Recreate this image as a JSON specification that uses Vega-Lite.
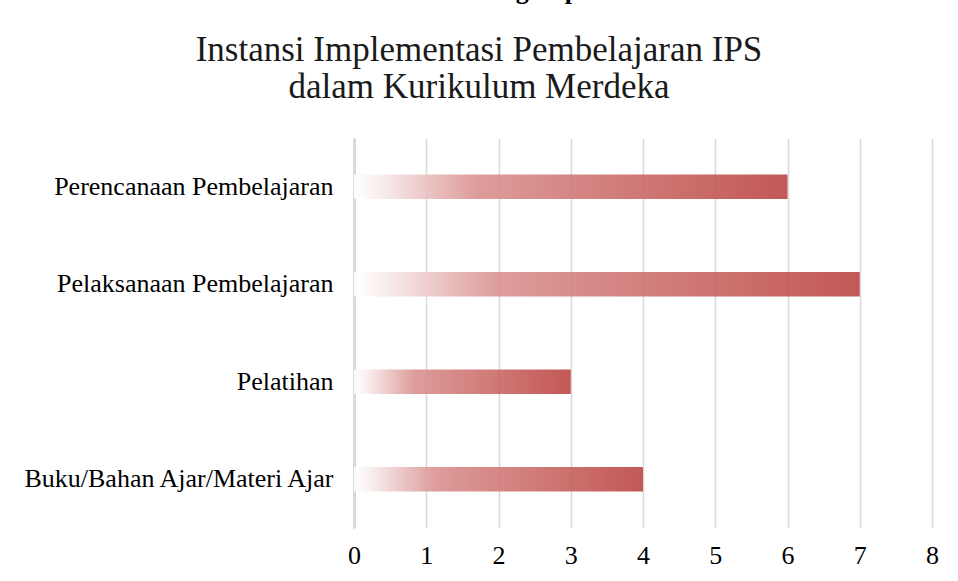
{
  "$schema": "https://vega.github.io/schema/vega-lite/v6.json",
  "autosize": "none",
  "width": 578,
  "height": 390,
  "padding": {"left": 354, "top": 138, "right": 26, "bottom": 53},
  "background": "#ffffff",
  "title": {
    "text": "Gambar 1. Proses Pengumpulan Data",
    "subtitle": ["Instansi Implementasi Pembelajaran IPS", "dalam Kurikulum Merdeka"],
    "anchor": "middle",
    "frame": "group",
    "dx": -164,
    "offset": 33,
    "font": "Liberation Serif",
    "fontSize": 26,
    "fontWeight": "bold",
    "color": "#000000",
    "subtitleFont": "Liberation Serif",
    "subtitleFontSize": 35,
    "subtitleLineHeight": 37,
    "subtitleColor": "#1a1a1a",
    "subtitlePadding": 29
  },
  "data": {
    "values": [
      {"kategori": "Perencanaan Pembelajaran", "jumlah": 6},
      {"kategori": "Pelaksanaan Pembelajaran", "jumlah": 7},
      {"kategori": "Pelatihan", "jumlah": 3},
      {"kategori": "Buku/Bahan Ajar/Materi Ajar", "jumlah": 4}
    ]
  },
  "mark": {
    "type": "bar",
    "opacity": 0.9,
    "color": {
      "x1": 0, "y1": 0, "x2": 1, "y2": 0,
      "gradient": "linear",
      "stops": [
        {"offset": 0, "color": "#ffffff"},
        {"offset": 0.06, "color": "#f8ecec"},
        {"offset": 0.28, "color": "#d99290"},
        {"offset": 0.6, "color": "#cc6f6c"},
        {"offset": 1, "color": "#bb4643"}
      ]
    }
  },
  "encoding": {
    "y": {
      "field": "kategori",
      "type": "nominal",
      "sort": null,
      "scale": {"paddingInner": 0.75, "paddingOuter": 0.375},
      "axis": {
        "title": null,
        "ticks": false,
        "domain": true,
        "domainColor": "#d9d9d9",
        "domainWidth": 3,
        "labelFont": "Liberation Serif",
        "labelFontSize": 26,
        "labelColor": "#000000",
        "labelPadding": 21,
        "labelLimit": 400
      }
    },
    "x": {
      "field": "jumlah",
      "type": "quantitative",
      "scale": {"domain": [0, 8], "nice": false},
      "axis": {
        "title": null,
        "values": [0, 1, 2, 3, 4, 5, 6, 7, 8],
        "ticks": false,
        "domain": false,
        "grid": true,
        "gridColor": "#d9d9d9",
        "gridWidth": 1.5,
        "labelFlush": false,
        "labelFont": "Liberation Serif",
        "labelFontSize": 26,
        "labelColor": "#000000",
        "labelPadding": 14
      }
    }
  },
  "config": {"view": {"stroke": null}}
}
